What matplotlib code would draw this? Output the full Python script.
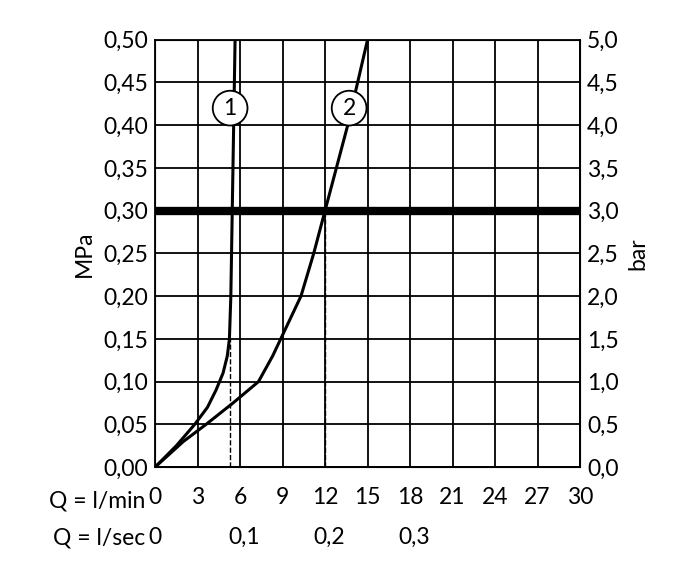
import matplotlib
matplotlib.use("Agg")
import matplotlib.pyplot as plt
import numpy as np

# curve 1 (l/min, MPa)
q1 = [0, 1.5, 2.8, 3.7, 4.3, 4.8, 5.1, 5.25, 5.35, 5.45, 5.55, 5.65]
p1 = [0, 0.025, 0.05, 0.07, 0.09, 0.11, 0.13, 0.15, 0.20, 0.30, 0.40, 0.50]
# curve 2
q2 = [0, 2.0, 3.6, 5.5, 7.3, 8.3, 9.3, 10.3, 11.2, 12.0, 12.8, 13.6, 14.3, 15.0]
p2 = [0, 0.03, 0.05, 0.075, 0.10, 0.13, 0.165, 0.20, 0.25, 0.30, 0.35, 0.40, 0.45, 0.50]
min_ticks = [0, 3, 6, 9, 12, 15, 18, 21, 24, 27, 30]
sec_pos = [0, 6, 12, 18]
sec_labels = ["0", "0,1", "0,2", "0,3"]
mpa_ticks = np.round(np.arange(0, 0.501, 0.05), 2)

plt.rcParams["font.family"] = ["Lato", "DejaVu Sans"]
fs = 16.5
fig = plt.figure(figsize=(6.8, 5.76), dpi=100)
ax = fig.add_axes([0.228, 0.189, 0.625, 0.742])
ax.set_xlim(0, 30)
ax.set_ylim(0, 0.5)
ax.set_xticks(min_ticks)
ax.set_yticks(mpa_ticks)
ax.grid(True, color="black", lw=1.3)
for s in ax.spines.values():
    s.set_linewidth(1.3)
ax.tick_params(length=0, labelsize=fs, pad=5)
ax.tick_params(axis="x", pad=14)
ax.set_xticklabels([str(t) for t in min_ticks])
ax.set_yticklabels([f"{v:.2f}".replace(".", ",") for v in mpa_ticks])
ax.set_ylabel("MPa", fontsize=fs, labelpad=6)

ax.plot(q1, p1, color="black", lw=2.2)
ax.plot(q2, p2, color="black", lw=2.2)
ax.axhline(0.30, color="black", lw=6)
ax.plot([5.3, 5.3], [0, 0.15], color="black", ls="--", lw=1)
ax.plot([12, 12], [0, 0.30], color="black", ls="--", lw=1)
for x, lbl in [(5.3, "1"), (13.7, "2")]:
    ax.text(x, 0.42, lbl, ha="center", va="center", fontsize=fs,
            bbox=dict(boxstyle="circle,pad=0.3", fc="white", ec="black", lw=1.3))

ax2 = ax.twinx()
ax2.set_ylim(0, 5.0)
ax2.set_yticks(mpa_ticks * 10)
ax2.set_yticklabels([f"{v*10:.1f}".replace(".", ",") for v in mpa_ticks])
ax2.tick_params(length=0, labelsize=fs, pad=5)
ax2.set_ylabel("bar", fontsize=fs, rotation=90, labelpad=6)

xt = ax.get_xaxis_transform()
ax.text(-0.7, -0.08, "Q = l/min", transform=xt, ha="right", va="center", fontsize=fs)
ax.text(-0.7, -0.165, "Q = l/sec", transform=xt, ha="right", va="center", fontsize=fs)
for x, lbl in zip(sec_pos, sec_labels):
    ax.text(x + (0.3 if x else 0), -0.165, lbl, transform=xt,
            ha="center", va="center", fontsize=fs)

fig.savefig("out.png", dpi=100)
